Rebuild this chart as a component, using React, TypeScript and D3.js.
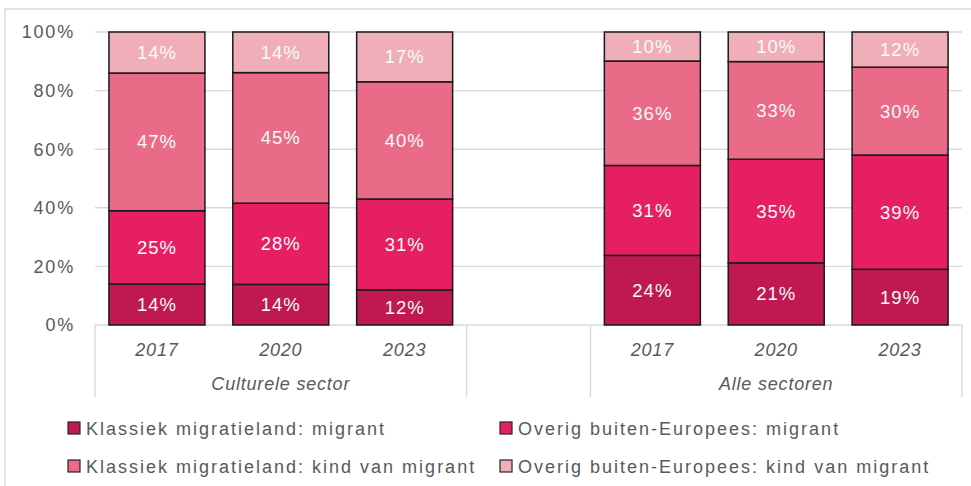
import React from 'react'
import * as d3 from 'd3'

const width = 971
const height = 486
const margin = {top: 32, right: 9, bottom: 161, left: 95}
const innerWidth = width - margin.left - margin.right
const innerHeight = height - margin.top - margin.bottom

// slots along the x axis; the empty one keeps the two groups apart
const slots = ['c2017', 'c2020', 'c2023', 'gap', 'a2017', 'a2020', 'a2023']
const yearLabels = ['2017', '2020', '2023', '', '2017', '2020', '2023']
const groupLabels = ['Culturele sector', '', 'Alle sectoren']
const groupSizes = [3, 1, 3]

const seriesNames = [
  'Klassiek migratieland: migrant',
  'Overig buiten-Europees: migrant',
  'Klassiek migratieland: kind van migrant',
  'Overig buiten-Europees: kind van migrant',
]
const colors = ['#c01851', '#e61f63', '#e96b87', '#f0aeb9']

// percentages per slot (gap slot = 0)
const klassiekMigrant = [14, 14, 12, 0, 24, 21, 19]
const overigMigrant = [25, 28, 31, 0, 31, 35, 39]
const klassiekKind = [47, 45, 40, 0, 36, 33, 30]
const overigKind = [14, 14, 17, 0, 10, 10, 12]

const yTicks = [0, 0.2, 0.4, 0.6, 0.8, 1]

const textGray = '#595959'
const gridGray = '#d9d9d9'
const font = '"Liberation Sans", Arial, sans-serif'

const App = () => {
  const keys = ['k0', 'k1', 'k2', 'k3']
  const rows = slots
    .map((s, i) => ({
      slot: s,
      k0: klassiekMigrant[i],
      k1: overigMigrant[i],
      k2: klassiekKind[i],
      k3: overigKind[i],
    }))
    .filter(d => d.slot !== 'gap')

  const stacked = d3.stack<any>().keys(keys).offset(d3.stackOffsetExpand)(rows)

  const x = d3
    .scaleBand()
    .domain(slots)
    .range([0, innerWidth])
    .paddingInner(0.225)
    .paddingOuter(0.1125)

  const y = d3.scaleLinear().domain([0, 1]).range([innerHeight, 0])
  const fmt = d3.format('.0%')

  // group boundaries on the category axis
  const step = x.step()
  const bounds = [0]
  groupSizes.forEach(n => bounds.push(bounds[bounds.length - 1] + n))

  const legendCols = [68, 500]
  const legendRows = [422, 460]

  return (
    <svg
      width={width}
      height={height}
      style={{position: 'absolute', left: 0, top: 0, background: '#fff'}}
      fontFamily={font}
    >
      <line x1={5} x2={width} y1={9} y2={9} stroke={gridGray} strokeWidth={1.5} />
      <line x1={5} x2={5} y1={9} y2={height} stroke={gridGray} strokeWidth={1.5} />

      <g transform={`translate(${margin.left},${margin.top})`}>
        {yTicks.map(t => (
          <g key={t}>
            <line x1={0} x2={innerWidth} y1={y(t)} y2={y(t)} stroke={gridGray} strokeWidth={1.4} />
            <text
              x={-20}
              y={y(t)}
              dy="0.35em"
              textAnchor="end"
              fontSize={18}
              letterSpacing={1.8}
              fill={textGray}
            >
              {fmt(t)}
            </text>
          </g>
        ))}

        {stacked.map((layer, li) => (
          <g key={layer.key}>
            {layer.map(d => {
              const x0 = x(d.data.slot) as number
              const y0 = y(d[1])
              const h = y(d[0]) - y(d[1])
              return (
                <g key={d.data.slot}>
                  <rect
                    x={x0}
                    y={y0}
                    width={x.bandwidth()}
                    height={h}
                    fill={colors[li]}
                    stroke="#1a1a1a"
                    strokeWidth={1.5}
                  />
                  <text
                    x={x0 + x.bandwidth() / 2}
                    y={y0 + h / 2}
                    dy="0.35em"
                    textAnchor="middle"
                    fontSize={18.5}
                    letterSpacing={1}
                    fill="#fbfbfb"
                  >
                    {d.data[layer.key]}%
                  </text>
                </g>
              )
            })}
          </g>
        ))}

        {/* category axis */}
        <g transform={`translate(0,${innerHeight})`}>
          {bounds.map((b, i) => (
            <line
              key={i}
              x1={b * step}
              x2={b * step}
              y1={0}
              y2={72}
              stroke={gridGray}
              strokeWidth={1.4}
            />
          ))}
          {slots.map((s, i) => (
            <text
              key={s}
              x={(x(s) as number) + x.bandwidth() / 2}
              y={31}
              textAnchor="middle"
              fontSize={18}
              fontStyle="italic"
              letterSpacing={0.8}
              fill={textGray}
            >
              {yearLabels[i]}
            </text>
          ))}
          {groupLabels.map((g, i) => (
            <text
              key={i}
              x={((bounds[i] + bounds[i + 1]) / 2) * step}
              y={65}
              textAnchor="middle"
              fontSize={18}
              fontStyle="italic"
              letterSpacing={0.8}
              fill={textGray}
            >
              {g}
            </text>
          ))}
        </g>
      </g>

      {/* legend */}
      {seriesNames.map((name, i) => {
        const lx = legendCols[i % 2]
        const ly = legendRows[Math.floor(i / 2)]
        return (
          <g key={name} transform={`translate(${lx},${ly})`}>
            <rect x={0} y={0} width={12} height={12} fill={colors[i]} stroke="#262626" strokeWidth={1.2} />
            <text x={18} y={13} fontSize={18} letterSpacing={2} fill={textGray}>
              {name}
            </text>
          </g>
        )
      })}
    </svg>
  )
}

export default App
